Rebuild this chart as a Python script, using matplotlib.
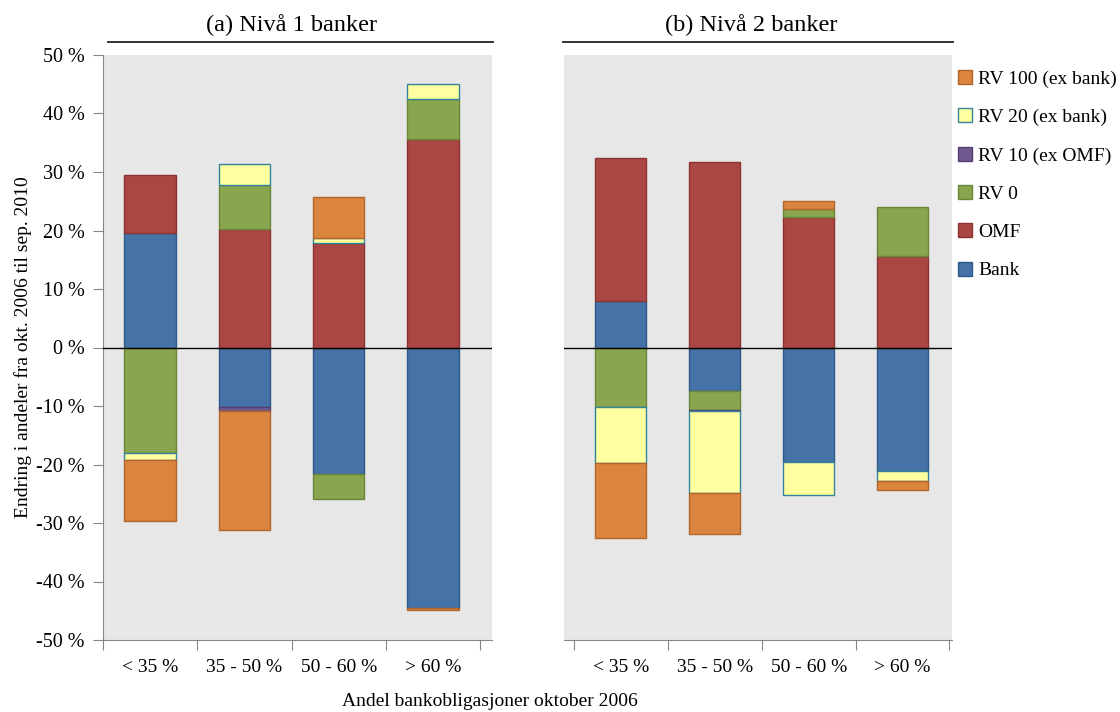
import numpy as np
import matplotlib
matplotlib.use("Agg")
import matplotlib.pyplot as plt
from matplotlib.lines import Line2D
from matplotlib.patches import Patch

plt.rcParams["font.family"] = ["Liberation Serif", "DejaVu Serif"]

# === Daten ===
kategorien = ["< 35 %", "35 - 50 %", "50 - 60 %", "> 60 %"]
serier = ["Bank", "OMF", "RV 0", "RV 10 (ex OMF)", "RV 20 (ex bank)", "RV 100 (ex bank)"]

# (a) Nivå 1 banker
bank_a = [19.5, -10.1, -21.6, -44.6]
omf_a = [10.0, 20.3, 17.9, 35.7]
rv0_a = [-18.0, 7.4, -4.3, 6.7]
rv10_a = [0.0, -0.7, 0.0, 0.0]
rv20_a = [-1.3, 3.6, 0.8, 2.6]
rv100_a = [-10.3, -20.4, 7.0, -0.3]

# (b) Nivå 2 banker
bank_b = [8.0, -7.4, -19.6, -21.1]
omf_b = [24.4, 31.7, 22.3, 15.6]
rv0_b = [-10.2, -3.3, 1.3, 8.5]
rv10_b = [0.0, -0.2, 0.0, 0.0]
rv20_b = [-9.6, -13.9, -5.6, -1.8]
rv100_b = [-12.8, -7.1, 1.5, -1.4]

farger = ["#4572A7", "#AA4643", "#89A54E", "#71588F", "#FFFFA0", "#DB843D"]
kanter = ["#2E5A8A", "#8A3330", "#6B8638", "#553F72", "#31849B", "#B0652A"]

W, H = 1120, 712
fig = plt.figure(figsize=(W / 100, H / 100), dpi=100)


def ax_rect(x0, x1, y0, y1):
    return [x0 / W, 1 - y1 / H, (x1 - x0) / W, (y1 - y0) / H]


def tegn_panel(ax, data):
    x = np.arange(len(kategorien))
    pos = np.zeros(len(kategorien))
    neg = np.zeros(len(kategorien))
    for verdier, farge, kant in zip(data, farger, kanter):
        v = np.array(verdier)
        bunn = np.where(v >= 0, pos, neg)
        m = v != 0  # keine Balken mit Höhe null zeichnen
        ax.bar(x[m], v[m], 0.545, bottom=bunn[m], color=farge, edgecolor=kant,
               linewidth=1.0, zorder=2)
        pos = pos + np.where(v > 0, v, 0)
        neg = neg + np.where(v < 0, v, 0)
    ax.set_facecolor("#E7E7E7")
    ax.set_ylim(-50, 50)
    ax.axhline(0, color="black", linewidth=1.0, zorder=3)
    ax.set_xticks(np.arange(-0.5, 4, 1))
    ax.set_xticklabels([])
    ax.set_xticks(x, minor=True)
    ax.set_xticklabels(kategorien, minor=True, fontsize=14)
    ax.tick_params(axis="x", which="minor", length=0, pad=14)
    ax.tick_params(axis="x", which="major", length=7, color="#888888", direction="out")
    for s in ["top", "right"]:
        ax.spines[s].set_visible(False)
    ax.spines["bottom"].set_color("#888888")


ax1 = fig.add_axes(ax_rect(103, 492, 55, 640))
tegn_panel(ax1, [bank_a, omf_a, rv0_a, rv10_a, rv20_a, rv100_a])
ax1.set_xlim(-0.5, 3.627)
yt = np.arange(-50, 51, 10)
ax1.set_yticks(yt)
ax1.set_yticklabels([f"{v} %" for v in yt], fontsize=14.5)
ax1.tick_params(axis="y", length=7, color="#888888", pad=6)
ax1.spines["left"].set_color("#888888")
ax1.set_ylabel("Endring i andeler fra okt. 2006 til sep. 2010", fontsize=14, labelpad=3)

ax2 = fig.add_axes(ax_rect(564, 952, 55, 640))
tegn_panel(ax2, [bank_b, omf_b, rv0_b, rv10_b, rv20_b, rv100_b])
ax2.set_xlim(-0.606, 3.527)
ax2.set_yticks([])
ax2.spines["left"].set_visible(False)

# Titler med strek under
fig.text(291 / W, 1 - 25 / H, "(a) Nivå 1 banker", fontsize=17.5, ha="center", va="center")
fig.text(751 / W, 1 - 25 / H, "(b) Nivå 2 banker", fontsize=17.5, ha="center", va="center")
fig.add_artist(Line2D([108 / W, 493 / W], [1 - 42 / H] * 2, color="#222222", linewidth=1.3))
fig.add_artist(Line2D([563 / W, 953 / W], [1 - 42 / H] * 2, color="#222222", linewidth=1.3))

fig.text(490 / W, 1 - 702 / H, "Andel bankobligasjoner oktober 2006", fontsize=14,
         ha="center", va="center")

# Legende
handles = [Patch(facecolor=f, edgecolor=k, linewidth=1.0, label=s)
           for s, f, k in zip(serier, farger, kanter)][::-1]
fig.legend(handles=handles, loc="upper left", bbox_to_anchor=(950 / W, 1 - 62 / H),
           frameon=False, fontsize=14, handlelength=0.75, handleheight=0.75,
           handletextpad=0.3, labelspacing=1.05, borderaxespad=0)

fig.savefig("out.png", dpi=100)
